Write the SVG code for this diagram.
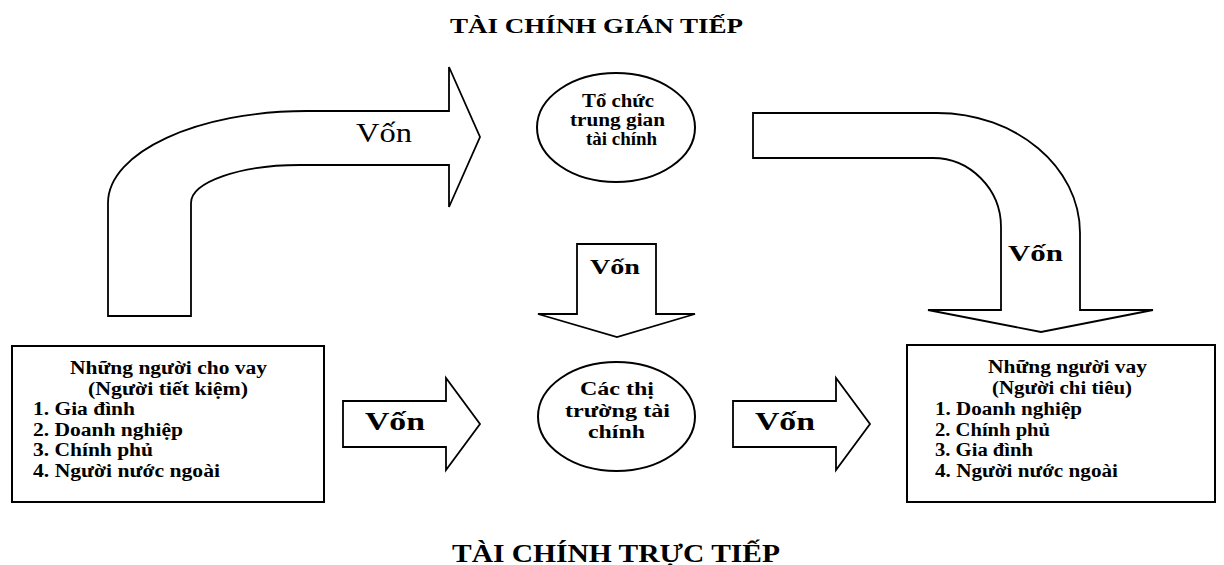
<svg xmlns="http://www.w3.org/2000/svg" width="1224" height="565" viewBox="0 0 1224 565">
  <style>
    .bg { fill: #ffffff; }
    .shape { fill: #ffffff; stroke: #000000; stroke-width: 2; stroke-linejoin: miter; }
    .arrow { fill: #ffffff; stroke: #000000; stroke-width: 1.8; stroke-linejoin: miter; }
    text { font-family: "Liberation Serif", "Times New Roman", serif; fill: #000000; }
    .b { font-weight: bold; }
    .t { font-size: 18px; font-weight: bold; }
    .c { text-anchor: middle; }
  </style>
  <rect class="bg" x="0" y="0" width="1224" height="565"/>

  <!-- section headings -->
  <text class="b c" x="596.5" y="33" font-size="22" textLength="293" lengthAdjust="spacingAndGlyphs">TÀI CHÍNH GIÁN TIẾP</text>
  <text class="b c" x="616" y="562" font-size="25" textLength="328" lengthAdjust="spacingAndGlyphs">TÀI CHÍNH TRỰC TIẾP</text>

  <!-- flows of funds -->
  <g id="connectors">
    <g id="flow-lenders-intermediary">
      <path class="arrow" d="M108,316 L108,203 C108,152 198,111 307,111 L449,111 L449,67 L480,137 L449,207 L449,165 L300,165 C240,165 191,182 191,203 L191,316 Z"/>
      <text class="c" x="384" y="142" font-size="28" textLength="56" lengthAdjust="spacingAndGlyphs">Vốn</text>
    </g>
    <g id="flow-intermediary-borrowers">
      <path class="arrow" d="M753,113 L937,113 C1016,113 1080,167 1080,233 L1080,310 L1153,310 L1041,332 L928,310 L1001,310 L1001,227 C1001,189 970,158 933,158 L753,158 Z"/>
      <text class="b c" x="1035.5" y="261" font-size="24" textLength="55" lengthAdjust="spacingAndGlyphs">Vốn</text>
    </g>
    <g id="flow-down-markets">
      <path class="arrow" d="M577,244 L656,244 L656,314 L695,314 L617,337 L538,314 L577,314 Z"/>
      <text class="b c" x="615" y="274" font-size="20" textLength="50" lengthAdjust="spacingAndGlyphs">Vốn</text>
    </g>
    <g id="flow-lenders-markets">
      <path class="arrow" d="M343,401 L446,401 L446,378 L480,424 L446,470 L446,447 L343,447 Z"/>
      <text class="b c" x="395" y="430" font-size="25" textLength="60" lengthAdjust="spacingAndGlyphs">Vốn</text>
    </g>
    <g id="flow-markets-borrowers">
      <path class="arrow" d="M733,401 L836,401 L836,378 L870,424 L836,470 L836,447 L733,447 Z"/>
      <text class="b c" x="785" y="430" font-size="25" textLength="60" lengthAdjust="spacingAndGlyphs">Vốn</text>
    </g>
  </g>

  <!-- lenders -->
  <g id="lenders">
    <rect class="shape" x="12" y="346" width="312" height="156"/>
    <text class="t c" x="168.5" y="374" textLength="197" lengthAdjust="spacingAndGlyphs">Những người cho vay</text>
    <text class="t c" x="168" y="395" textLength="160" lengthAdjust="spacingAndGlyphs">(Người tiết kiệm)</text>
    <text class="t" x="33" y="415" textLength="102" lengthAdjust="spacingAndGlyphs">1. Gia đình</text>
    <text class="t" x="33" y="436" textLength="150" lengthAdjust="spacingAndGlyphs">2. Doanh nghiệp</text>
    <text class="t" x="33" y="456" textLength="120" lengthAdjust="spacingAndGlyphs">3. Chính phủ</text>
    <text class="t" x="33" y="477" textLength="187" lengthAdjust="spacingAndGlyphs">4. Người nước ngoài</text>
  </g>

  <!-- financial intermediaries -->
  <g id="intermediary">
    <ellipse class="shape" cx="616" cy="127.5" rx="79" ry="54.5"/>
    <text class="t c" x="618" y="107" textLength="72" lengthAdjust="spacingAndGlyphs">Tổ chức</text>
    <text class="t c" x="617.5" y="126" textLength="95" lengthAdjust="spacingAndGlyphs">trung gian</text>
    <text class="t c" x="621.5" y="145" textLength="71" lengthAdjust="spacingAndGlyphs">tài chính</text>
  </g>

  <!-- financial markets -->
  <g id="markets">
    <ellipse class="shape" cx="616.5" cy="416.5" rx="78.5" ry="54.5"/>
    <text class="t c" x="617" y="395" textLength="74" lengthAdjust="spacingAndGlyphs">Các thị</text>
    <text class="t c" x="617.5" y="417" textLength="105" lengthAdjust="spacingAndGlyphs">trường tài</text>
    <text class="t c" x="616.5" y="438" textLength="57" lengthAdjust="spacingAndGlyphs">chính</text>
  </g>

  <!-- borrowers -->
  <g id="borrowers">
    <rect class="shape" x="907" y="345" width="308" height="157"/>
    <text class="t c" x="1067.5" y="373" textLength="159" lengthAdjust="spacingAndGlyphs">Những người vay</text>
    <text class="t c" x="1062" y="394" textLength="140" lengthAdjust="spacingAndGlyphs">(Người chi tiêu)</text>
    <text class="t" x="935" y="415" textLength="147" lengthAdjust="spacingAndGlyphs">1. Doanh nghiệp</text>
    <text class="t" x="935" y="436" textLength="115" lengthAdjust="spacingAndGlyphs">2. Chính phủ</text>
    <text class="t" x="935" y="456" textLength="98" lengthAdjust="spacingAndGlyphs">3. Gia đình</text>
    <text class="t" x="935" y="477" textLength="183" lengthAdjust="spacingAndGlyphs">4. Người nước ngoài</text>
  </g>
</svg>
